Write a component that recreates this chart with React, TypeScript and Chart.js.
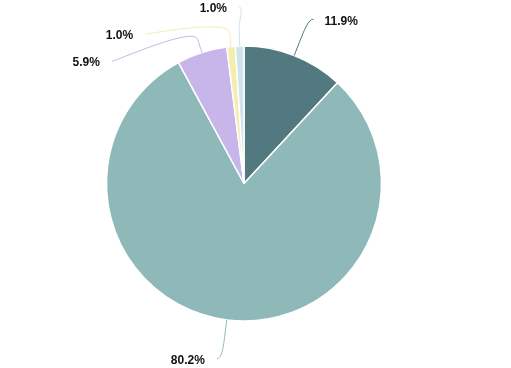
import React, { useEffect, useRef } from "react";
import { Chart, registerables } from "chart.js";

Chart.register(...registerables);

const categories = ["Segment A", "Segment B", "Segment C", "Segment D", "Segment E"];
const seriesValues = [11.9, 80.2, 5.9, 1.0, 1.0];
const sliceColors = ["#52797f", "#8fb9b9", "#c8b6ea", "#f4edb2", "#cde4ea"];

type LabelItem = {
  idx: number;
  left: boolean;
  ny: number;
  y: number;
  touch: { x: number; y: number };
  brk: { x: number; y: number };
  color: string;
  text: string;
};

function distribute(items: LabelItem[], h: number, minY: number, maxY: number) {
  items.sort((a, b) => a.ny - b.ny);
  let clusters: { items: LabelItem[]; start: number }[] = items.map((it) => ({ items: [it], start: it.ny }));
  const place = (c: { items: LabelItem[]; start: number }) => {
    let s = 0;
    c.items.forEach((it, k) => (s += it.ny - k * h));
    let start = s / c.items.length;
    const maxStart = maxY - (c.items.length - 1) * h;
    start = Math.max(minY, Math.min(maxStart, start));
    c.start = start;
  };
  clusters.forEach(place);
  let merged = true;
  while (merged) {
    merged = false;
    for (let i = 0; i < clusters.length - 1; i++) {
      const a = clusters[i];
      const b = clusters[i + 1];
      if (a.start + a.items.length * h > b.start) {
        const c = { items: a.items.concat(b.items), start: 0 };
        place(c);
        clusters.splice(i, 2, c);
        merged = true;
        break;
      }
    }
  }
  clusters.forEach((c) => c.items.forEach((it, k) => (it.y = c.start + k * h)));
}

const labelPlugin = {
  id: "pieOutsideLabels",
  afterDraw(chart: any) {
    const meta = chart.getDatasetMeta(0);
    const ds = chart.data.datasets[0];
    const vals: number[] = ds.data as number[];
    const total = vals.reduce((a, b) => a + b, 0);
    const ctx: CanvasRenderingContext2D = chart.ctx;
    const items: LabelItem[] = [];
    let cx = 0, cy = 0, r = 0;
    meta.data.forEach((arc: any, i: number) => {
      const p = arc.getProps(["x", "y", "startAngle", "endAngle", "outerRadius"], true);
      cx = p.x; cy = p.y; r = p.outerRadius;
      const mid = (p.startAngle + p.endAngle) / 2;
      const c = Math.cos(mid), s = Math.sin(mid);
      const R = r + 39;
      items.push({
        idx: i,
        left: c < 0,
        ny: cy + R * s,
        y: cy + R * s,
        touch: { x: cx + r * c, y: cy + r * s },
        brk: { x: cx + (r + 14) * c, y: cy + (r + 14) * s },
        color: sliceColors[i],
        text: ((vals[i] / total) * 100).toFixed(1) + "%",
      });
    });
    const R = r + 39;
    const H = chart.height;
    const leftItems = items.filter((it) => it.left);
    const rightItems = items.filter((it) => !it.left);
    distribute(leftItems, 27, 7, H - 7);
    distribute(rightItems, 27, 7, H - 7);

    ctx.save();
    ctx.font = "bold 12px 'Liberation Sans', Arial, sans-serif";
    ctx.textBaseline = "middle";
    items.forEach((it) => {
      const ratio = Math.max(-1, Math.min(1, (it.y - cy) / R));
      const dx = Math.cos(Math.asin(ratio)) * R;
      const lx = it.left ? cx - dx - 5 : cx + dx + 5;
      const ly = it.y;
      ctx.beginPath();
      ctx.strokeStyle = it.color;
      ctx.lineWidth = 1;
      ctx.moveTo(lx, ly);
      ctx.bezierCurveTo(
        lx + (it.left ? 5 : -5),
        ly,
        2 * it.brk.x - it.touch.x,
        2 * it.brk.y - it.touch.y,
        it.brk.x,
        it.brk.y
      );
      ctx.lineTo(it.touch.x, it.touch.y);
      ctx.stroke();
      ctx.fillStyle = "#111111";
      ctx.textAlign = it.left ? "right" : "left";
      ctx.fillText(it.text, it.left ? lx - 12 : lx + 11, ly + 2);
    });
    ctx.restore();
  },
};

export default function App() {
  const ref = useRef<HTMLCanvasElement | null>(null);
  useEffect(() => {
    if (!ref.current) return;
    const chart = new Chart(ref.current, {
      type: "pie",
      data: {
        labels: categories,
        datasets: [
          {
            data: seriesValues,
            backgroundColor: sliceColors,
            borderColor: "#ffffff",
            borderWidth: 1.5,
          },
        ],
      },
      options: {
        responsive: false,
        animation: false,
        radius: 137.5,
        layout: { padding: { left: 100, right: 123, top: 40, bottom: 41 } },
        plugins: {
          legend: { display: false },
          tooltip: { enabled: false },
        },
      } as any,
      plugins: [labelPlugin],
    });
    return () => chart.destroy();
  }, []);
  return (
    <div style={{ position: "fixed", left: 0, top: 0, width: 511, height: 368, background: "#ffffff" }}>
      <canvas ref={ref} width={511} height={368} />
    </div>
  );
}
